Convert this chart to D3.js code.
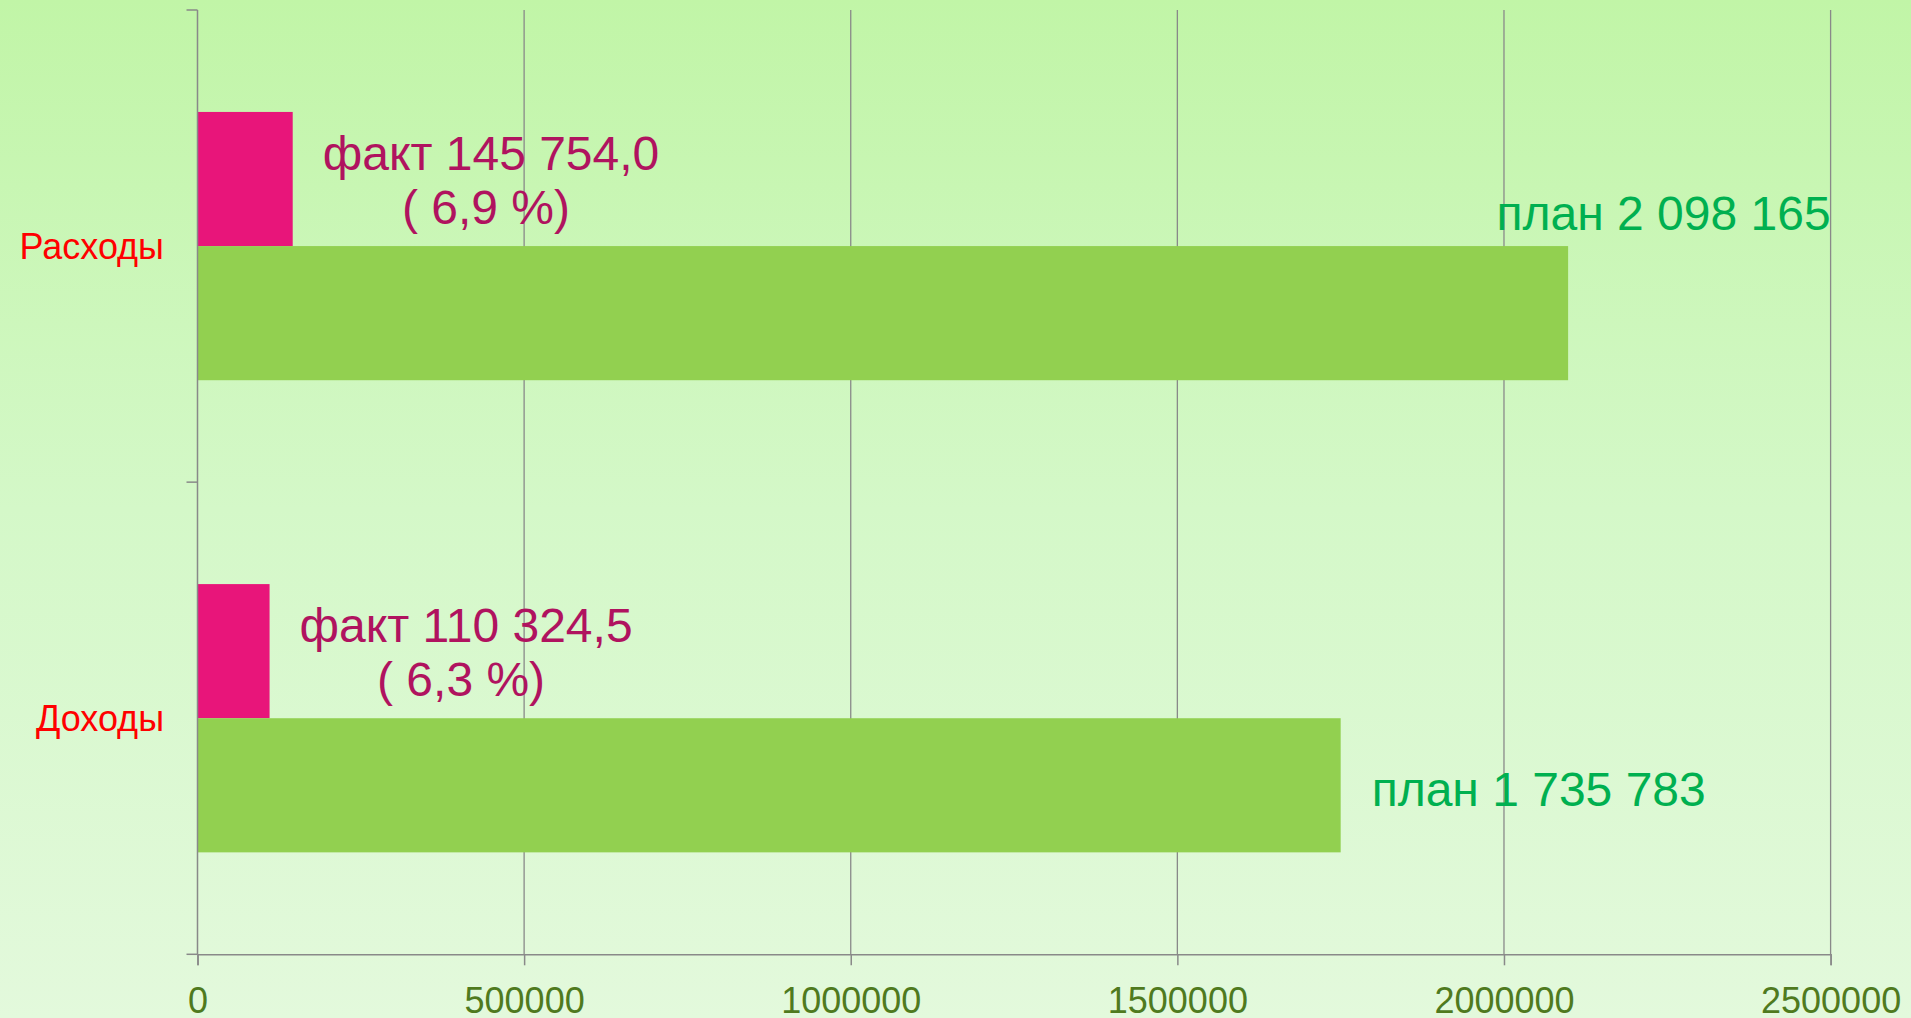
<!DOCTYPE html>
<html>
<head>
<meta charset="utf-8">
<script src="https://cdn.jsdelivr.net/npm/d3@7"></script>
<style>
  html, body { margin: 0; padding: 0; overflow: hidden; }
  body { width: 1911px; height: 1018px; font-family: "Liberation Sans", Arial, sans-serif; }
</style>
</head>
<body>
<div id="chart"></div>
<script>
// categories top to bottom
var categories = ["Расходы", "Доходы"];
var planValues = [2098165, 1750000];   // bar lengths as drawn in the picture
var factValues = [145754.0, 110324.5];
var planLabels = ["план 2 098 165", "план 1 735 783"];
var factLabels = ["факт 145 754,0", "факт 110 324,5"];
var factPercents = ["( 6,9 %)", "( 6,3 %)"];
var xTicks = [0, 500000, 1000000, 1500000, 2000000, 2500000];

var width = 1911, height = 1018,
    margin = {top: 10, right: 80, bottom: 64, left: 197.5};

var svg = d3.select("#chart").append("svg")
    .attr("width", width)
    .attr("height", height);

var defs = svg.append("defs");
var grad = defs.append("linearGradient")
    .attr("id", "bg").attr("x1", 0).attr("y1", 0).attr("x2", 0).attr("y2", 1);
grad.append("stop").attr("offset", "0%").attr("stop-color", "#c1f5a7");
grad.append("stop").attr("offset", "50%").attr("stop-color", "#d4f8c8");
grad.append("stop").attr("offset", "100%").attr("stop-color", "#e3f9dc");

svg.append("rect")
    .attr("width", width).attr("height", height)
    .attr("fill", "url(#bg)");

var x = d3.scaleLinear()
    .domain([0, 2500000])
    .range([margin.left, 1830.6]);

var y = d3.scaleBand()
    .domain(categories)
    .range([margin.top, 954.3]);

var inner = d3.scaleBand()
    .domain(["fact", "plan"])
    .range([0, y.bandwidth()])
    .paddingInner(0)
    .paddingOuter(0.76);

var lineColor = "#898989";

// gridlines
svg.append("g").selectAll("line")
    .data(xTicks.slice(1))
  .enter().append("line")
    .attr("x1", function(d) { return x(d); })
    .attr("x2", function(d) { return x(d); })
    .attr("y1", y.range()[0])
    .attr("y2", y.range()[1])
    .attr("stroke", lineColor)
    .attr("stroke-width", 1.3);

// bars
var rows = categories.map(function(c, i) {
  return {cat: c, plan: planValues[i], fact: factValues[i],
          planLabel: planLabels[i], factLabel: factLabels[i], pct: factPercents[i]};
});

var row = svg.append("g").selectAll("g")
    .data(rows)
  .enter().append("g")
    .attr("transform", function(d) { return "translate(0," + y(d.cat) + ")"; });

row.append("rect")
    .attr("x", x(0))
    .attr("y", inner("fact"))
    .attr("width", function(d) { return x(d.fact) - x(0); })
    .attr("height", inner.bandwidth())
    .attr("fill", "#e8157a");

row.append("rect")
    .attr("x", x(0))
    .attr("y", inner("plan"))
    .attr("width", function(d) { return x(d.plan) - x(0); })
    .attr("height", inner.bandwidth())
    .attr("fill", "#92d050");

// fact labels (two lines, second centred under the first)
row.each(function(d) {
  var g = d3.select(this);
  var t1 = g.append("text")
      .attr("x", x(d.fact) + 30)
      .attr("y", inner("fact") + 58)
      .attr("fill", "#b0135f")
      .style("font-size", "48px")
      .text(d.factLabel);
  var w = t1.node().getComputedTextLength();
  g.append("text")
      .attr("x", x(d.fact) + 30 + w / 2 - 5)
      .attr("y", inner("fact") + 112)
      .attr("text-anchor", "middle")
      .attr("fill", "#b0135f")
      .style("font-size", "48px")
      .text(d.pct);
});

// plan labels: outside the bar end, or above it when there is no room
row.append("text")
    .attr("fill", "#00b050")
    .style("font-size", "48px")
    .each(function(d) {
      var t = d3.select(this).text(d.planLabel);
      var w = this.getComputedTextLength();
      if (x(d.plan) + 31 + w > x.range()[1]) {
        t.attr("x", x.range()[1]).attr("text-anchor", "end")
         .attr("y", inner("plan") - 16);
      } else {
        t.attr("x", x(d.plan) + 31)
         .attr("y", inner("plan") + inner.bandwidth() / 2 + 21);
      }
    });

// y axis
var yAxis = svg.append("g");
yAxis.append("line")
    .attr("x1", x(0)).attr("x2", x(0))
    .attr("y1", y.range()[0]).attr("y2", y.range()[1])
    .attr("stroke", lineColor).attr("stroke-width", 1.5);
yAxis.selectAll(".tick")
    .data([y.range()[0], y.range()[0] + y.bandwidth(), y.range()[1]])
  .enter().append("line")
    .attr("x1", x(0) - 11).attr("x2", x(0))
    .attr("y1", function(d) { return d; }).attr("y2", function(d) { return d; })
    .attr("stroke", lineColor).attr("stroke-width", 1.5);
yAxis.selectAll("text")
    .data(categories)
  .enter().append("text")
    .attr("x", 164)
    .attr("y", function(d) { return y(d) + y.bandwidth() / 2; })
    .attr("dy", "0.35em")
    .attr("text-anchor", "end")
    .attr("fill", "#ff0000")
    .style("font-size", "36px")
    .text(function(d) { return d; });

// x axis
var xAxis = svg.append("g")
    .attr("transform", "translate(0," + y.range()[1] + ")")
    .call(d3.axisBottom(x).tickValues(xTicks).tickSize(11).tickPadding(22).tickFormat(d3.format("d")));
xAxis.select(".domain").attr("stroke", lineColor).attr("stroke-width", 1.5);
xAxis.selectAll(".tick line").attr("stroke", lineColor).attr("stroke-width", 1.5);
xAxis.selectAll(".tick text")
    .attr("fill", "#4f7a1e")
    .style("font-size", "36px")
    .style("font-family", "'Liberation Sans', Arial, sans-serif");
</script>
</body>
</html>
